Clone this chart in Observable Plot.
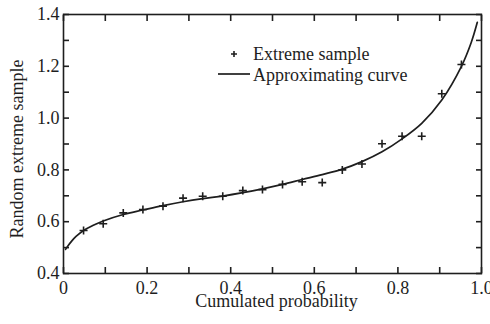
<!DOCTYPE html>
<html><head><meta charset="utf-8">
<script src="https://cdn.jsdelivr.net/npm/d3@7"></script>
<script src="https://cdn.jsdelivr.net/npm/@observablehq/plot@0.6"></script>
<style>
body{margin:0;background:#fff;}
#wrap{position:relative;width:490px;height:324px;}
#legend{position:absolute;left:0;top:0;width:490px;height:324px;pointer-events:none;}
</style></head><body><div id="wrap"></div>
<script>
// Extreme sample points (cumulated probability, value)
const sampleP = [0.048,0.095,0.143,0.190,0.238,0.286,0.333,0.381,0.429,0.476,0.524,0.571,0.619,0.667,0.714,0.762,0.810,0.857,0.905,0.952];
const sampleV = [0.566,0.592,0.634,0.647,0.660,0.691,0.698,0.698,0.720,0.724,0.744,0.754,0.751,0.800,0.823,0.901,0.930,0.930,1.094,1.207];
// Approximating curve
const curveP = [0.005,0.010,0.020,0.030,0.048,0.070,0.095,0.143,0.190,0.238,0.286,0.333,0.381,0.429,0.476,0.524,0.571,0.619,0.667,0.714,0.762,0.810,0.857,0.905,0.952,0.975,0.990];
const curveV = [0.493,0.505,0.526,0.543,0.566,0.585,0.603,0.628,0.645,0.662,0.677,0.689,0.699,0.712,0.727,0.744,0.763,0.782,0.803,0.832,0.870,0.920,0.980,1.070,1.200,1.290,1.370];
// Axis ticks
const xMajor = [0,0.2,0.4,0.6,0.8,1.0];
const xMinor = [0,0.1,0.2,0.3,0.4,0.5,0.6,0.7,0.8,0.9,1.0];
const yMajor = [0.4,0.6,0.8,1.0,1.2,1.4];
const yMinor = [0.4,0.5,0.6,0.7,0.8,0.9,1.0,1.1,1.2,1.3,1.4];
const xTitle = "Cumulated probability";
const yTitle = "Random extreme sample";
const legendLabels = ["Extreme sample","Approximating curve"];

const samples = sampleP.map((p,i)=>({p, v: sampleV[i]}));
const curve = curveP.map((p,i)=>({p, v: curveV[i]}));
const ink = "#1e1e1e";
const font = "'Liberation Serif','Times New Roman',serif";
const W = 490, H = 324, mL = 63, mR = 9, mT = 14, mB = 51;
const tick = 6;

const tickOpts = {tickSize: -tick, fill: "none", label: null, stroke: ink, strokeWidth: 1.6};
const chart = Plot.plot({
  width: W, height: H,
  marginLeft: mL, marginRight: mR, marginTop: mT, marginBottom: mB,
  x: {domain: [0, 1]},
  y: {domain: [0.4, 1.4]},
  style: {fontFamily: font, fontSize: "18px", color: ink, background: "#fff"},
  marks: [
    Plot.line(curve, {x: "p", y: "v", curve: "catmull-rom", stroke: ink, strokeWidth: 1.7}),
    Plot.dot(samples, {x: "p", y: "v", symbol: "plus", r: 2.7, stroke: ink, strokeWidth: 1.6}),
    // inward ticks on all four sides
    Plot.axisX(xMinor, {anchor: "bottom", ...tickOpts}),
    Plot.axisX(xMinor, {anchor: "top", ...tickOpts}),
    Plot.axisY(yMinor, {anchor: "left", ...tickOpts}),
    Plot.axisY(yMinor, {anchor: "right", ...tickOpts}),
    Plot.axisX(xMajor, {anchor: "bottom", tickSize: 0, tickPadding: 8, label: null, fill: ink, fontSize: 18,
      tickFormat: d => d === 0 ? "0" : d.toFixed(1)}),
    Plot.axisY(yMajor, {anchor: "left", tickSize: 0, tickPadding: 4, label: null, fill: ink, fontSize: 18,
      tickFormat: d => d.toFixed(1)}),
    Plot.text([xTitle], {frameAnchor: "bottom", textAnchor: "middle", lineAnchor: "middle", dx: 4, dy: 28, fill: ink, fontSize: 18}),
    Plot.text([yTitle], {frameAnchor: "left", textAnchor: "middle", lineAnchor: "middle", dx: -46, dy: 5, rotate: -90, fill: ink, fontSize: 18}),
    Plot.frame({stroke: ink, strokeWidth: 1.6})
  ]
});
const wrap = document.getElementById("wrap");
wrap.appendChild(chart);

// Legend overlay
const NS = "http://www.w3.org/2000/svg";
const leg = document.createElementNS(NS, "svg");
leg.setAttribute("id","legend");
leg.setAttribute("width",W); leg.setAttribute("height",H);
const ff = font.replace(/'/g,"");
leg.innerHTML = `
  <path d="M231,54h6M234,51v6" stroke="${ink}" stroke-width="1.6" fill="none"/>
  <line x1="218" y1="74" x2="250" y2="74" stroke="${ink}" stroke-width="1.7"/>
  <text x="253" y="56" dominant-baseline="middle" font-family="${ff}" font-size="18" fill="${ink}">${legendLabels[0]}</text>
  <text x="253" y="77" dominant-baseline="middle" font-family="${ff}" font-size="18" fill="${ink}">${legendLabels[1]}</text>`;
wrap.appendChild(leg);
</script>
</body></html>
